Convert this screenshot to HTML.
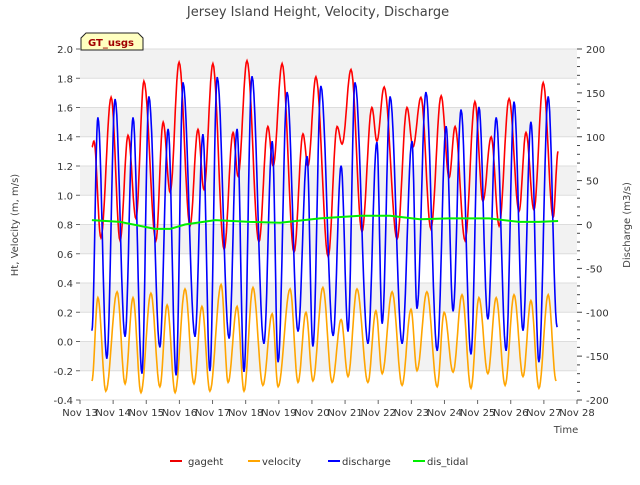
<!DOCTYPE html>
<html><head><meta charset="utf-8"><style>
body{margin:0;background:#fff;font-family:"Liberation Sans","DejaVu Sans",sans-serif}
svg text{font-family:"DejaVu Sans","Liberation Sans",sans-serif}
</style></head><body>
<svg id="chart" width="640" height="480" viewBox="0 0 640 480">
<text x="318" y="16" font-size="13" fill="#444" text-anchor="middle">Jersey Island Height, Velocity, Discharge</text>
<g id="bands"></g>
<g id="grid"></g>
<g id="series"></g>
<g id="axes"></g>
<g>
<path d="M81,50 L81,38 L86,33 L138,33 L143,38 L143,50 Z" fill="#ffffc0" stroke="#222" stroke-width="1"/>
<text x="111" y="46" font-size="10" font-weight="bold" fill="#a00000" text-anchor="middle">GT_usgs</text>
</g>
<text x="566" y="433" font-size="10" fill="#444" text-anchor="middle">Time</text>
<text transform="translate(18,225) rotate(-90)" font-size="10" fill="#444" text-anchor="middle">Ht, Velocity (m, m/s)</text>
<text transform="translate(630,225) rotate(-90)" font-size="10" fill="#444" text-anchor="middle">Discharge (m3/s)</text>
<g>
<g><line x1="170" y1="461" x2="182" y2="461" stroke="#e00" stroke-width="2"/><text x="188" y="465" font-size="10" fill="#333">gageht</text></g>
<g><line x1="248" y1="461" x2="260" y2="461" stroke="orange" stroke-width="2"/><text x="262" y="465" font-size="10" fill="#333">velocity</text></g>
<g><line x1="328" y1="461" x2="340" y2="461" stroke="#00f" stroke-width="2"/><text x="342" y="465" font-size="10" fill="#333">discharge</text></g>
<g><line x1="413" y1="461" x2="425" y2="461" stroke="#0e0" stroke-width="2"/><text x="427" y="465" font-size="10" fill="#333">dis_tidal</text></g>
</g>
</svg>
<script>
const xTickLabels=["Nov 13","Nov 14","Nov 15","Nov 16","Nov 17","Nov 18","Nov 19","Nov 20","Nov 21","Nov 22","Nov 23","Nov 24","Nov 25","Nov 26","Nov 27","Nov 28"];
const leftTicks=[-0.4,-0.2,0.0,0.2,0.4,0.6,0.8,1.0,1.2,1.4,1.6,1.8,2.0];
const rightTicks=[-200,-150,-100,-50,0,50,100,150,200];
const gagehtT=[0.36,0.42,0.63,0.94,1.21,1.45,1.69,1.93,2.29,2.51,2.72,2.99,3.32,3.56,3.74,4.01,4.35,4.62,4.77,5.04,5.40,5.67,5.83,6.10,6.46,6.73,6.88,7.12,7.49,7.76,7.91,8.18,8.51,8.81,8.96,9.18,9.57,9.87,10.05,10.29,10.59,10.90,11.14,11.32,11.62,11.92,12.16,12.41,12.65,12.95,13.25,13.46,13.70,13.98,14.28,14.43];
const gagehtV=[1.33,1.37,0.71,1.67,0.69,1.41,0.84,1.78,0.69,1.5,1.02,1.91,0.79,1.45,1.04,1.9,0.63,1.43,1.13,1.92,0.68,1.47,1.2,1.9,0.61,1.42,1.2,1.81,0.58,1.47,1.35,1.86,0.75,1.6,1.37,1.74,0.7,1.6,1.33,1.67,0.77,1.68,1.12,1.47,0.69,1.64,0.96,1.4,0.79,1.66,0.89,1.43,0.9,1.77,0.85,1.3];
const dischargeT=[0.36,0.54,0.81,1.06,1.36,1.60,1.87,2.08,2.41,2.66,2.90,3.11,3.47,3.71,3.92,4.14,4.50,4.74,4.95,5.19,5.55,5.80,5.98,6.25,6.58,6.85,7.03,7.27,7.64,7.88,8.09,8.30,8.69,8.96,9.12,9.36,9.72,10.02,10.17,10.44,10.78,11.05,11.26,11.50,11.80,12.04,12.31,12.56,12.86,13.10,13.37,13.61,13.85,14.13,14.40];
const dischargeV=[-121,122,-153,143,-128,122,-170,146,-140,109,-172,162,-128,103,-167,168,-130,109,-168,169,-136,95,-157,151,-122,78,-139,158,-127,67,-122,162,-136,94,-113,146,-136,95,-96,151,-144,112,-99,131,-148,134,-108,122,-144,140,-121,117,-157,146,-117];
const velocityT=[0.36,0.54,0.78,1.12,1.36,1.60,1.84,2.14,2.41,2.63,2.87,3.17,3.44,3.68,3.92,4.26,4.47,4.74,4.95,5.22,5.52,5.80,5.98,6.34,6.58,6.82,7.03,7.33,7.61,7.88,8.09,8.36,8.69,8.93,9.12,9.42,9.72,9.99,10.17,10.47,10.78,10.99,11.26,11.53,11.80,12.04,12.31,12.56,12.83,13.10,13.37,13.61,13.85,14.13,14.37];
const velocityV=[-0.27,0.30,-0.34,0.34,-0.29,0.30,-0.35,0.33,-0.31,0.25,-0.35,0.36,-0.29,0.24,-0.34,0.39,-0.28,0.24,-0.34,0.37,-0.30,0.19,-0.31,0.36,-0.28,0.20,-0.27,0.37,-0.28,0.15,-0.24,0.36,-0.28,0.21,-0.22,0.34,-0.30,0.22,-0.20,0.34,-0.31,0.20,-0.21,0.32,-0.32,0.30,-0.22,0.30,-0.30,0.32,-0.24,0.28,-0.32,0.32,-0.27];
const tidalT=[0.36,1.21,2.26,2.72,3.17,4.08,5.12,6.04,7.24,8.45,9.36,10.26,11.14,12.35,13.25,13.85,14.43];
const tidalV=[5,3,-5,-5,0,5,3,2,7,10,10,6,7,7,3,3,4];

const NS="http://www.w3.org/2000/svg";
const X0=80,X1=577,Y0=49,Y1=400;
function xs(d){return X0+(X1-X0)*d/15;}
function yl(v){return Y1-(Y1-Y0)*(v+0.4)/2.4;}
function yr(v){return Y1-(Y1-Y0)*(v+200)/400;}
function mk(tag,attrs,parent){const e=document.createElementNS(NS,tag);for(const k in attrs)e.setAttribute(k,attrs[k]);parent.appendChild(e);return e;}
const bands=document.getElementById('bands'),grid=document.getElementById('grid'),axes=document.getElementById('axes'),ser=document.getElementById('series');
mk('rect',{x:X0,y:Y0,width:X1-X0,height:Y1-Y0,fill:'#fff'},bands);
for(let i=0;i<12;i+=2){const top=2.0-0.2*i;const r=mk('rect',{x:X0,y:yl(top),width:X1-X0,height:yl(top-0.2)-yl(top),fill:'#f2f2f2'},bands);

}
leftTicks.forEach(v=>{const y=yl(v);
const l=mk('line',{x1:X0,x2:X1,y1:y,y2:y,stroke:'#ddd','stroke-width':1},grid);


mk('line',{x1:X0-4,x2:X0,y1:y,y2:y,stroke:'#666'},axes);
const t=mk('text',{x:X0-7,y:y+4,'font-size':10,fill:'#333','text-anchor':'end'},axes);t.textContent=v.toFixed(1);

});
for(let v=-200;v<=200;v+=10){const y=yr(v);mk('line',{x1:X1,x2:X1+(v%50===0?5:3),y1:y,y2:y,stroke:'#444'},axes);}
rightTicks.forEach(v=>{const t=mk('text',{x:X1+9,y:yr(v)+4,'font-size':10,fill:'#333'},axes);t.textContent=v;

});
xTickLabels.forEach((s,i)=>{const x=xs(i);mk('line',{x1:x,x2:x,y1:Y1,y2:Y1+4,stroke:'#666'},axes);
const t=mk('text',{x:x,y:Y1+16,'font-size':10,fill:'#333','text-anchor':'middle'},axes);t.textContent=s;

});
function smoothPath(T,V,ys){let d='M'+xs(T[0]).toFixed(1)+','+ys(V[0]).toFixed(1);
for(let i=0;i<T.length-1;i++){for(let k=1;k<=12;k++){const f=k/12,w=(1-Math.cos(Math.PI*f))/2;
const t=T[i]+(T[i+1]-T[i])*f,v=V[i]+(V[i+1]-V[i])*w;d+=' L'+xs(t).toFixed(1)+','+ys(v).toFixed(1);}}return d;}
function linPath(T,V,ys){return T.map((t,i)=>(i?'L':'M')+xs(t).toFixed(1)+','+ys(V[i]).toFixed(1)).join(' ');}
const p1=mk('path',{d:smoothPath(velocityT,velocityV,yl),fill:'none',stroke:'orange','stroke-width':1.6},ser);


const p2=mk('path',{d:smoothPath(gagehtT,gagehtV,yl),fill:'none',stroke:'#f00','stroke-width':1.6},ser);


const p3=mk('path',{d:smoothPath(dischargeT,dischargeV,yr),fill:'none',stroke:'#00f','stroke-width':1.6},ser);


const p4=mk('path',{d:linPath(tidalT,tidalV,yr),fill:'none',stroke:'#0e0','stroke-width':2},ser);


</script>
</body></html>
